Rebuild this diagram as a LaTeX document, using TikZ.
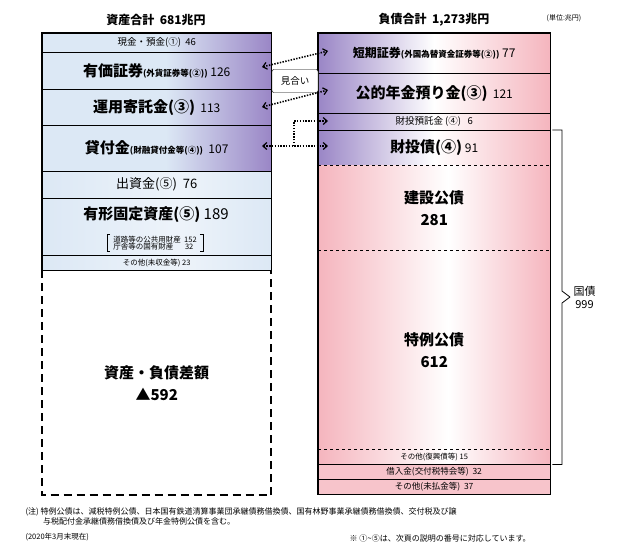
\documentclass[tikz,border=0pt]{standalone}
\usepackage{fontspec}
\setmainfont{Noto Sans CJK JP}
\usetikzlibrary{arrows.meta}
\definecolor{lblue}{HTML}{DCE8F5}
\definecolor{purp}{HTML}{9A86C6}
\definecolor{lpink}{HTML}{F5B5BE}
\pgfdeclarehorizontalshading{bluepurple}{100bp}{color(0bp)=(lblue); color(25bp)=(lblue); color(52bp)=(lblue); color(75bp)=(purp); color(100bp)=(purp)}
\pgfdeclarehorizontalshading{bluewhite}{100bp}{color(0bp)=(lblue); color(25bp)=(lblue); color(55bp)=(lblue!50); color(75bp)=(lblue); color(100bp)=(lblue)}
\pgfdeclarehorizontalshading{purplepink}{100bp}{color(0bp)=(purp); color(25bp)=(purp); color(50bp)=(white); color(75bp)=(lpink); color(100bp)=(lpink)}
\pgfdeclarehorizontalshading{pinkwhite}{100bp}{color(0bp)=(lpink); color(25bp)=(lpink); color(53bp)=(white); color(75bp)=(lpink); color(100bp)=(lpink)}
\tikzset{
  row/.style={anchor=north west, inner sep=0pt, align=center, font=\fontsize{12}{13}\selectfont},
  rowL/.style={row, minimum width=229pt},
  rowR/.style={row, minimum width=232pt},
  big/.style={font=\fontsize{15}{22}\selectfont\bfseries},
  conn/.style={line width=1.6pt, dash pattern=on 1.4pt off 1.4pt},
  barb/.tip={Straight Barb[length=4pt,width=7pt,line width=1.2pt]},
}
\begin{document}
\begin{tikzpicture}[x=1pt,y=-1pt]
  \useasboundingbox (0,0) rectangle (620,550);
  % titles
  \node[font=\fontsize{12}{12}\selectfont\bfseries] (tA) at (156,20) {資産合計\ \ 681兆円};
  \node[font=\fontsize{12}{12}\selectfont\bfseries] (tL) at (434,20) {負債合計\ \ 1,273兆円};
  \node[font=\fontsize{7}{7}\selectfont] (unit) at (564,18) {(単位:兆円)};

  % assets
  \node[rowL, minimum height=19pt, shading=bluepurple, font=\fontsize{9.5}{9}\selectfont] (l1) at (42,33) {現金・預金(①)\ \ 46};
  \node[rowL, minimum height=37pt, shading=bluepurple] (l2) at (42,52) {{\fontsize{15}{15}\selectfont\bfseries 有価証券}{\fontsize{8.5}{8}\selectfont\bfseries(外貨証券等(②))}\ 126};
  \node[rowL, minimum height=36pt, shading=bluepurple] (l3) at (42,89) {{\fontsize{15}{15}\selectfont\bfseries 運用寄託金(③)}\ \ 113};
  \node[rowL, minimum height=46pt, shading=bluepurple] (l4) at (42,125) {{\fontsize{15}{15}\selectfont\bfseries 貸付金}{\fontsize{8.5}{8}\selectfont\bfseries(財融貸付金等(④))}\ \ 107};
  \node[rowL, minimum height=27pt, shading=bluewhite, font=\fontsize{13}{13}\selectfont] (l5) at (42,171) {出資金(⑤)\ \ 76};
  \node[rowL, minimum height=57pt, shading=bluewhite] (l6) at (42,198) {};
  \node[rowL, minimum height=15pt, shading=bluewhite, font=\fontsize{7.5}{7}\selectfont] (l7) at (42,255) {その他(未収金等)\ 23};
  \node[big] (l6t) at (156,215) {有形固定資産(⑤)\ {\mdseries 189}};
  \node[font=\fontsize{7.5}{7.5}\selectfont, align=left, inner xsep=6pt, inner ysep=1pt] (sub) at (155,243)
    {道路等の公共用財産\ \ 152\\庁舎等の国有財産\ \ \ \ \ \ \ 32};
  \draw (sub.north west) ++(3,0) -- (sub.north west) -- (sub.south west) -- ++(3,0);
  \draw (sub.north east) ++(-3,0) -- (sub.north east) -- (sub.south east) -- ++(-3,0);
  \foreach \n in {l1,l2,l3,l4,l5,l6}
    \draw[line width=0.8pt] (\n.south west) -- (\n.south east);
  \draw[line width=1.5pt] (l1.north west) rectangle (l7.south east);
  \node[rowL, minimum height=225pt, big] (gap) at (42,270) {資産・負債差額\\▲592};
  \draw[line width=2pt, dash pattern=on 8pt off 5pt] (gap.north west) -- (gap.south west) -- (gap.south east) -- (gap.north east);

  % liabilities
  \node[rowR, minimum height=40pt, shading=purplepink] (r1) at (318,33) {{\fontsize{12}{12}\selectfont\bfseries 短期証券}{\fontsize{8.5}{8}\selectfont\bfseries(外国為替資金証券等(②))}\ 77};
  \node[rowR, minimum height=40pt, shading=purplepink] (r2) at (318,73) {{\fontsize{15}{15}\selectfont\bfseries 公的年金預り金(③)}\ \ 121};
  \node[rowR, minimum height=17pt, shading=purplepink, font=\fontsize{9.5}{9}\selectfont] (r3) at (318,113) {財投預託金 (④)\ \ \ 6};
  \node[rowR, minimum height=35pt, shading=purplepink] (r4) at (318,130) {{\fontsize{15}{15}\selectfont\bfseries 財投債(④)}\ 91};
  \node[rowR, minimum height=85pt, shading=pinkwhite, big] (r5) at (318,165) {建設公債\\281};
  \node[rowR, minimum height=199pt, shading=pinkwhite, big] (r6) at (318,250) {特例公債\\612};
  \node[rowR, minimum height=15pt, shading=pinkwhite, font=\fontsize{7.5}{7}\selectfont] (r7) at (318,449) {その他(復興債等) 15};
  \node[rowR, minimum height=15pt, fill=lpink!80, font=\fontsize{8.5}{8}\selectfont] (r8) at (318,464) {借入金(交付税特会等)\ \ 32};
  \node[rowR, minimum height=15pt, fill=lpink!80, font=\fontsize{8.5}{8}\selectfont] (r9) at (318,479) {その他(未払金等)\ \ 37};
  \foreach \n in {r1,r2,r3,r7,r8}
    \draw[line width=0.8pt] (\n.south west) -- (\n.south east);
  \foreach \n in {r4,r5,r6}
    \draw[dashed] (\n.south west) -- (\n.south east);
  \draw[line width=1.5pt] (r1.north west) rectangle (r9.south east);

  % matching arrows
  \node[draw, rounded corners=2pt, fill=white, minimum width=46pt, minimum height=23pt, inner sep=0pt, font=\fontsize{9.5}{9}\selectfont] (match) at (295,81) {見合い};
  \coordinate (a2) at (262,67);
  \coordinate (b1) at (328,51);
  \coordinate (a3) at (262,107);
  \coordinate (b2) at (328,90);
  \coordinate (a4) at (262,146);
  \coordinate (b3) at (328,121);
  \coordinate (b4) at (328,146);
  \coordinate (k) at (294,146);
  \draw[conn, barb-barb] (a2) -- (b1);
  \draw[conn, barb-barb] (a3) -- (b2);
  \draw[conn, barb-barb] (a4) -- (b4);
  \draw[conn, -barb] (k) |- (b3);

  % brace for kokusai
  \coordinate (br) at (570,297);
  \draw[line width=0.8pt] (r4.north east) ++(2,0) -| (562,291) -- (br);
  \draw[line width=0.8pt] (r7.south east) ++(2,0) -| (562,303) -- (br);
  \node[font=\fontsize{11}{13}\selectfont, align=center, anchor=west] (kk) at (br) {国債\\999};

  % notes
  \node[font=\fontsize{8}{10}\selectfont, align=left, anchor=north west] (note) at (22,504)
    {(注)\ 特例公債は、減税特例公債、日本国有鉄道清算事業団承継債務借換債、国有林野事業承継債務借換債、交付税及び譲\\\hspace*{2.2em}与税配付金承継債務借換債及び年金特例公債を含む。};
  \node[font=\fontsize{7.5}{8}\selectfont, anchor=west] (date) at (22,537) {(2020年3月末現在)};
  \node[font=\fontsize{8}{8}\selectfont, anchor=west] (ref) at (346,538) {※\ ①\textasciitilde⑤は、次頁の説明の番号に対応しています。};
\end{tikzpicture}
\end{document}
